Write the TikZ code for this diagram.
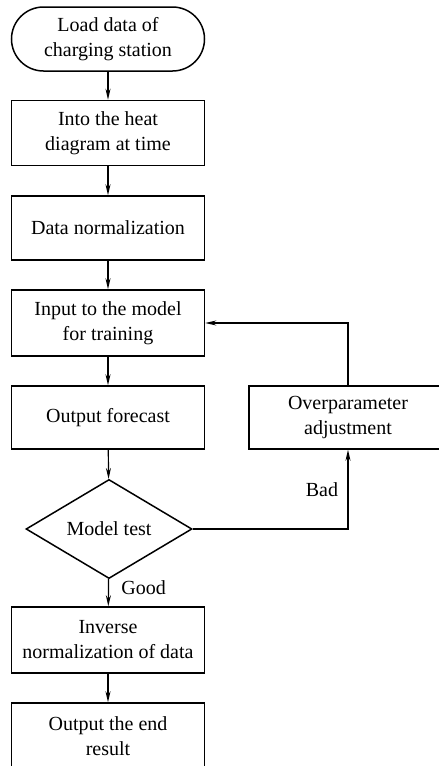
\documentclass[tikz,border=0pt]{standalone}
\usepackage{fontspec}
\setmainfont{Liberation Serif}
\usetikzlibrary{shapes.geometric,arrows.meta}
\begin{document}
\begin{tikzpicture}[x=1pt,y=-1pt,
    box/.style={draw,line width=1.5pt,minimum width=193pt,minimum height=65pt,
      align=center,inner sep=2pt,font=\fontsize{20}{25}\selectfont},
    arr/.style={line width=1.2pt,-{Stealth[length=11pt,width=5pt]}},
    lbl/.style={font=\fontsize{20}{25}\selectfont}]
      \useasboundingbox (0,0) rectangle (439,766);
      \node[box,rounded corners=32pt,minimum height=64pt] (start) at (108,39) {Load data of\\charging station};
      \node[box] (heat) at (108,133) {Into the heat\\diagram at time};
      \node[box,minimum height=64pt] (norm) at (108,228) {Data normalization};
      \node[box,minimum height=66pt] (input) at (108,323) {Input to the model\\for training};
      \node[box,minimum height=63pt] (fcst) at (108,417.5) {Output forecast};
      \node[box,diamond,minimum width=166pt,minimum height=98pt,inner sep=0pt] (test) at (109,529) {Model test};
      \node[box,minimum height=66pt] (inv) at (108,640) {Inverse\\normalization of data};
      \node[box,minimum height=66pt] (res) at (108,736) {Output the end\\result};
      \node[box,minimum width=198pt,minimum height=63pt] (adj) at (348,417.5) {Overparameter\\adjustment};
      \draw[arr] (start) -- (heat); \draw[arr] (heat) -- (norm);
      \draw[arr] (norm) -- (input); \draw[arr] (input) -- (fcst);
      \draw[arr] (fcst) -- (test);
      \draw[arr] (test) -- node[lbl,pos=0.3,right,xshift=9pt] {Good} (inv);
      \draw[arr] (inv) -- (res);
      \draw[arr] (test.east) -| node[lbl,pos=0.75,left,xshift=-6pt] {Bad} (adj.south);
      \draw[arr] (adj.north) |- (input.east);
    \end{tikzpicture}
\end{document}
